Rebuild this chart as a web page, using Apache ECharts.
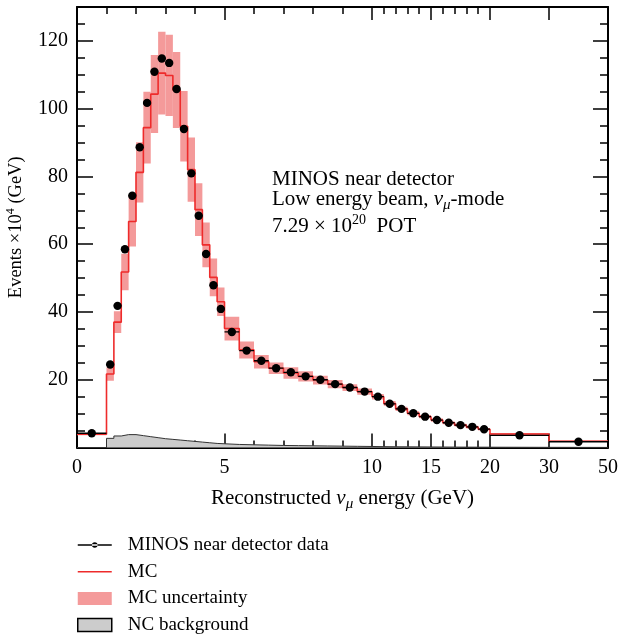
<!DOCTYPE html>
<html>
<head>
<meta charset="utf-8">
<script src="https://cdn.jsdelivr.net/npm/echarts@6/dist/echarts.min.js"></script>
<style>
  html, body { margin: 0; padding: 0; background: #ffffff; }
  #chart { width: 620px; height: 637px; }
</style>
</head>
<body>
<div id="chart"></div>
<script>
// Reconstructed energy bin edges (GeV)
const binEdges = [0, 1, 1.25, 1.5, 1.75, 2, 2.25, 2.5, 2.75, 3, 3.25, 3.5, 3.75, 4, 4.25, 4.5, 4.75, 5,
  5.5, 6, 6.5, 7, 7.5, 8, 8.5, 9, 9.5, 10, 11, 12, 13, 14, 15, 16, 17, 18, 19, 20, 30, 50];

// Events per GeV, in units of 10^4
const dataValues = [4.2, 24.5, 41.8, 58.5, 74.3, 88.6, 101.7, 110.9, 114.8, 113.5, 105.8, 94.0, 80.9, 68.4,
  57.1, 47.9, 40.9, 34.1, 28.6, 25.6, 23.4, 22.2, 21.0, 20.0, 18.7, 17.7, 16.5, 15.0, 12.9, 11.4, 10.1,
  9.1, 8.1, 7.3, 6.6, 6.1, 5.4, 3.6, 1.7];
const mcValues = [3.9, 21.7, 37.0, 51.8, 66.7, 81.2, 94.4, 104.3, 110.5, 109.8, 105.5, 94.8, 82.0, 70.2,
  59.8, 50.2, 43.0, 35.1, 28.8, 25.3, 23.4, 22.0, 21.0, 19.9, 18.7, 17.7, 16.5, 15.0, 13.0, 11.4, 10.1,
  9.1, 8.1, 7.3, 6.6, 6.0, 5.4, 4.0, 1.85];
const mcErrors = [0.3, 2.0, 3.2, 5.4, 7.4, 8.9, 10.6, 11.5, 12.2, 12.0, 11.2, 10.4, 9.5, 7.8, 6.6, 5.6,
  4.2, 3.5, 2.5, 2.0, 1.7, 1.7, 1.5, 1.3, 1.2, 1.0, 0.9, 0.8, 0.7, 0.6, 0.6, 0.5, 0.5, 0.45, 0.4, 0.4,
  0.35, 0.3, 0.2];
const ncValues = [0, 2.7, 3.4, 3.8, 3.8, 3.5, 3.2, 2.9, 2.6, 2.4, 2.2, 2.0, 1.8, 1.6, 1.4, 1.2, 1.1,
  0.9, 0.8, 0.7, 0.6, 0.55, 0.5, 0.45, 0.4, 0.35, 0.3, 0.25, 0.22, 0.2, 0.18, 0.16, 0.14, 0.12, 0.11,
  0.1, 0.09, 0.05, 0.02];

// Axis tick labels (GeV) and tick positions
const xMajorTicks = [0, 5, 10, 15, 20, 30, 50];
const xTickLabels = ['0', '5', '10', '15', '20', '30', '50'];
const xMinorTicks = [1, 2, 3, 4, 6, 7, 8, 9, 11, 12, 13, 14, 16, 17, 18, 19];
const yMajorTicks = [0, 20, 40, 60, 80, 100, 120];
const yTickLabels = [20, 40, 60, 80, 100, 120];
const yMinorTicks = [5, 10, 15, 25, 30, 35, 45, 50, 55, 65, 70, 75, 85, 90, 95, 105, 110, 115, 125];

// The energy axis is piecewise linear: each segment [GeV, axis units]
const axisSegments = [[0, 0], [10, 10], [20, 14], [30, 16], [50, 18]];
function toAxis(e) {
  for (let i = 1; i < axisSegments.length; i++) {
    const [e0, a0] = axisSegments[i - 1];
    const [e1, a1] = axisSegments[i];
    if (e <= e1) return a0 + (e - e0) * (a1 - a0) / (e1 - e0);
  }
  return axisSegments[axisSegments.length - 1][1];
}

const FONT = '"Liberation Serif", "DejaVu Serif", serif';
const RED = '#ee2b2b';
const PINK = '#f49a9a';
const GREY = '#cccccc';

function stepLine(values) {
  const pts = [];
  for (let i = 0; i < values.length; i++) {
    pts.push([toAxis(binEdges[i]), values[i]]);
    pts.push([toAxis(binEdges[i + 1]), values[i]]);
  }
  return pts;
}

const bandData = mcValues.map((v, i) =>
  [toAxis(binEdges[i]), toAxis(binEdges[i + 1]), v + mcErrors[i], v - mcErrors[i]]);
const pointData = dataValues.map((v, i) =>
  [toAxis((binEdges[i] + binEdges[i + 1]) / 2), v, toAxis(binEdges[i]), toAxis(binEdges[i + 1])]);

const xMajorPos = xMajorTicks.map(toAxis);
const xMinorPos = xMinorTicks.map(toAxis);

function xAxisDef(position, ticks, length, withLine, withLabels) {
  return {
    type: 'value', position: position, min: 0, max: 18,
    axisLine: { show: withLine, onZero: false, lineStyle: { color: '#000', width: 2 } },
    axisTick: { show: true, inside: true, length: length, customValues: ticks,
      lineStyle: { color: '#000', width: 1.5 } },
    axisLabel: withLabels ? {
      show: true, customValues: xMajorPos, margin: 10, color: '#000',
      fontFamily: FONT, fontSize: 20,
      formatter: v => { const k = xMajorPos.findIndex(p => Math.abs(p - v) < 1e-6); return k >= 0 ? xTickLabels[k] : ''; }
    } : { show: false },
    splitLine: { show: false }
  };
}
function yAxisDef(position, ticks, length, withLine, withLabels) {
  return {
    type: 'value', position: position, min: 0, max: 130,
    axisLine: { show: withLine, onZero: false, lineStyle: { color: '#000', width: 2 } },
    axisTick: { show: true, inside: true, length: length, customValues: ticks,
      lineStyle: { color: '#000', width: 1.5 } },
    axisLabel: withLabels ? {
      show: true, customValues: yTickLabels, margin: 9, color: '#000',
      fontFamily: FONT, fontSize: 20
    } : { show: false },
    splitLine: { show: false }
  };
}

const xMain = xAxisDef('bottom', xMajorPos, 14, true, true);
xMain.name = '{t|Reconstructed }{it|ν}{sub|μ}{t| energy (GeV)}';
xMain.nameLocation = 'middle';
xMain.nameGap = 38;
xMain.nameTextStyle = {
  rich: {
    t: { fontFamily: FONT, fontSize: 21, color: '#000', lineHeight: 24 },
    it: { fontFamily: FONT, fontSize: 21, fontStyle: 'italic', color: '#000', lineHeight: 24 },
    sub: { fontFamily: FONT, fontSize: 15, fontStyle: 'italic', color: '#000', verticalAlign: 'top', padding: [11, 0, 0, 0] }
  }
};

const yMain = yAxisDef('left', yMajorTicks, 16, true, true);
yMain.name = '{t|Events ×10}{sup|4}{t| (GeV)}';
yMain.nameLocation = 'middle';
yMain.nameRotate = 90;
yMain.nameGap = 49;
yMain.nameTextStyle = {
  rich: {
    t: { fontFamily: FONT, fontSize: 18.5, color: '#000', lineHeight: 22 },
    sup: { fontFamily: FONT, fontSize: 12, color: '#000', verticalAlign: 'bottom', padding: [0, 0, 11, 0] }
  }
};

const chart = echarts.init(document.getElementById('chart'), null, { renderer: 'canvas' });
chart.setOption({
  animation: false,
  backgroundColor: '#ffffff',
  grid: { left: 77, right: 12, top: 7, bottom: 189.5, containLabel: false, outerBoundsMode: 'none' },
  xAxis: [
    xMain,
    xAxisDef('bottom', xMinorPos, 7, false, false),
    xAxisDef('top', xMajorPos, 13, true, false),
    xAxisDef('top', xMinorPos, 7, false, false)
  ],
  yAxis: [
    yMain,
    yAxisDef('left', yMinorTicks, 8, false, false),
    yAxisDef('right', yMajorTicks, 15, true, false),
    yAxisDef('right', yMinorTicks, 8, false, false)
  ],
  legend: {
    orient: 'vertical', left: 77, top: 535, padding: 0,
    itemWidth: 34, itemHeight: 13, itemGap: 6.7,
    selectedMode: false,
    textStyle: { fontFamily: FONT, fontSize: 19, lineHeight: 20, color: '#000', padding: [0, 0, 0, 11] },
    data: [
      { name: 'MINOS near detector data',
        icon: 'path://M0,3.3h34v1.4h-34z M14.2,4a2.8,2.8 0 1,0 5.6,0a2.8,2.8 0 1,0 -5.6,0z',
        itemStyle: { color: '#000', borderWidth: 0 } },
      { name: 'MC', icon: 'path://M0,0h34v1.6h-34z', itemStyle: { color: RED, borderWidth: 0 } },
      { name: 'MC uncertainty', icon: 'rect', itemStyle: { color: PINK, borderWidth: 0 } },
      { name: 'NC background', icon: 'rect', itemStyle: { color: GREY, borderColor: '#000', borderWidth: 1.5 } }
    ]
  },
  graphic: [
    { type: 'text', left: 272, top: 169, z: 100,
      style: { text: 'MINOS near detector', font: '21px ' + FONT, fill: '#000' } },
    { type: 'text', left: 272, top: 189, z: 100,
      style: { text: '{t|Low energy beam, }{it|ν}{sub|μ}{t|-mode}', fill: '#000',
        rich: {
          t: { fontFamily: FONT, fontSize: 21, lineHeight: 24 },
          it: { fontFamily: FONT, fontSize: 21, fontStyle: 'italic', lineHeight: 24 },
          sub: { fontFamily: FONT, fontSize: 15, fontStyle: 'italic', verticalAlign: 'top', padding: [11, 0, 0, 0] }
        } } },
    { type: 'text', left: 272, top: 213, z: 100,
      style: { text: '{t|7.29 × 10}{sup|20}{t|  POT}', fill: '#000',
        rich: {
          t: { fontFamily: FONT, fontSize: 21, lineHeight: 24 },
          sup: { fontFamily: FONT, fontSize: 14, verticalAlign: 'bottom', padding: [0, 0, 12, 0] }
        } } }
  ],
  series: [
    {
      name: 'MC uncertainty', type: 'custom', z: 1, clip: true,
      data: bandData,
      encode: { x: [0, 1], y: [2, 3] },
      renderItem: (params, api) => {
        const a = api.coord([api.value(0), api.value(2)]);
        const b = api.coord([api.value(1), api.value(3)]);
        return { type: 'rect', shape: { x: a[0], y: a[1], width: b[0] - a[0], height: b[1] - a[1] },
          style: { fill: PINK } };
      }
    },
    {
      name: 'NC background', type: 'line', z: 2, symbol: 'none',
      data: stepLine(ncValues),
      lineStyle: { color: '#333', width: 1 },
      itemStyle: { color: GREY },
      areaStyle: { color: GREY, opacity: 1 }
    },
    {
      name: 'MC', type: 'line', z: 3, symbol: 'none',
      data: stepLine(mcValues),
      lineStyle: { color: RED, width: 1.6 },
      itemStyle: { color: RED }
    },
    {
      name: 'MINOS near detector data', type: 'custom', z: 4, clip: true,
      data: pointData,
      encode: { x: [0, 2, 3], y: 1 },
      renderItem: (params, api) => {
        const c = api.coord([api.value(0), api.value(1)]);
        const l = api.coord([api.value(2), api.value(1)]);
        const r = api.coord([api.value(3), api.value(1)]);
        return { type: 'group', children: [
          { type: 'line', shape: { x1: l[0], y1: l[1], x2: r[0], y2: r[1] },
            style: { stroke: '#000', lineWidth: 1.3 } },
          { type: 'circle', shape: { cx: c[0], cy: c[1], r: 4.2 }, style: { fill: '#000' } }
        ] };
      }
    }
  ]
});
</script>
</body>
</html>
